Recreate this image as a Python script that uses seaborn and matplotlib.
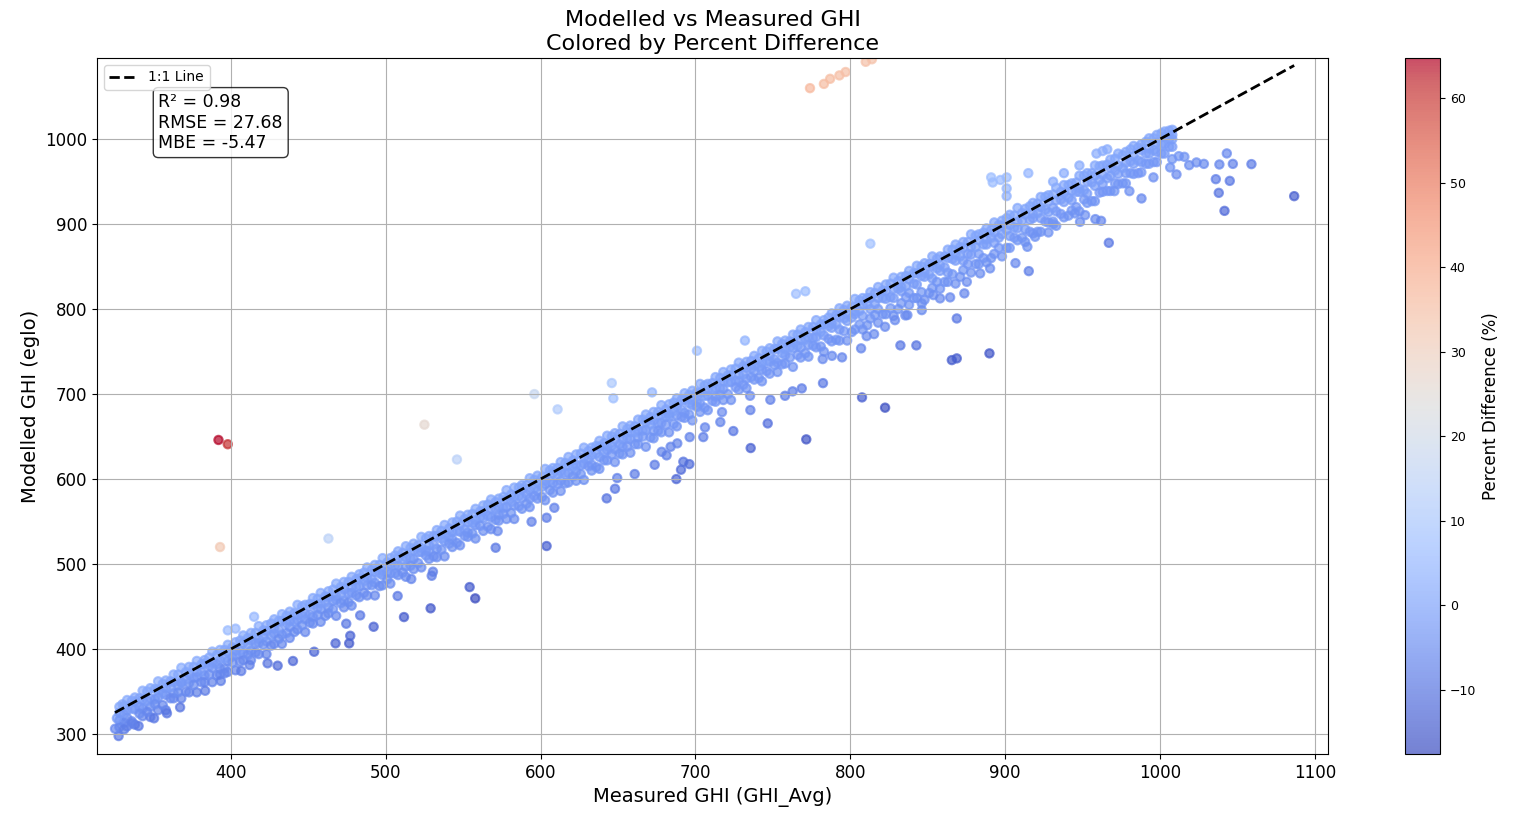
import numpy as np
import pandas as pd
import matplotlib
matplotlib.use("Agg")
import matplotlib.pyplot as plt
import matplotlib.cm as cm
from matplotlib.colors import Normalize
import seaborn as sns

# ---- main dense band (measured value, with modelled values read at several heights) ----
band_measured = [328, 333, 338, 343, 348, 353, 358, 363, 368, 373, 378, 383, 388, 393, 398, 403, 408, 413, 418, 423,
                 428, 433, 438, 443, 448, 453, 458, 463, 468, 473, 478, 483, 488, 493, 498, 503, 508, 513, 518, 523,
                 528, 533, 538, 543, 548, 553, 558, 563, 568, 573, 578, 583, 588, 593, 598, 603, 608, 613, 618, 623,
                 628, 633, 638, 643, 648, 653, 658, 663, 668, 673, 678, 683, 688, 693, 698, 703, 708, 713, 718, 723,
                 728, 733, 738, 743, 748, 753, 758, 763, 768, 773, 778, 783, 788, 793, 798, 803, 808, 813, 818, 823,
                 828, 833, 838, 843, 848, 853, 858, 863, 868, 873, 878, 883, 888, 893, 898, 903, 908, 913, 918, 923,
                 928, 933, 938, 943, 948, 953, 958, 963, 968, 973, 978, 983, 988, 993, 998, 1003, 1008]
band_model_hi = [332, 340, 343, 351, 354, 362, 363, 370, 378, 379, 386, 387, 397, 399, 405, 408, 416, 419, 427, 428,
                 435, 441, 444, 452, 452, 460, 466, 468, 477, 479, 485, 488, 496, 499, 507, 507, 515, 521, 524, 532,
                 533, 540, 546, 549, 557, 558, 565, 569, 576, 577, 587, 590, 593, 601, 604, 612, 613, 620, 626, 629,
                 637, 637, 645, 651, 654, 662, 663, 670, 676, 679, 687, 688, 695, 701, 704, 712, 712, 720, 726, 729,
                 737, 738, 745, 751, 754, 762, 763, 770, 776, 779, 787, 787, 795, 801, 804, 812, 813, 820, 826, 829,
                 837, 838, 845, 851, 854, 862, 862, 870, 876, 879, 888, 888, 895, 902, 904, 911, 919, 918, 925, 932,
                 934, 943, 946, 948, 957, 960, 969, 969, 976, 983, 985, 992, 994, 1001, 1005, 1009, 1011]
band_model_mid1 = [325, 328, 338, 340, 342, 352, 354, 361, 361, 370, 373, 383, 384, 387, 396, 398, 407, 410, 412, 421,
                   424, 433, 433, 440, 442, 452, 454, 461, 462, 470, 473, 483, 484, 491, 492, 500, 507, 508, 516, 519,
                   522, 533, 535, 538, 546, 549, 552, 562, 565, 568, 576, 579, 588, 587, 595, 598, 607, 609, 616, 617,
                   625, 628, 638, 639, 646, 647, 655, 658, 667, 669, 676, 677, 685, 693, 693, 701, 704, 707, 715, 722,
                   723, 731, 734, 737, 745, 753, 753, 761, 764, 767, 775, 782, 783, 791, 794, 797, 805, 813, 813, 821,
                   824, 826, 835, 842, 843, 851, 852, 860, 864, 872, 873, 881, 882, 890, 898, 899, 903, 911, 912, 920,
                   927, 928, 936, 939, 942, 950, 957, 958, 966, 969, 972, 980, 987, 989, 996, 1003, 1005]
band_model_mid2 = [316, 319, 329, 330, 332, 343, 346, 348, 360, 360, 367, 369, 378, 377, 386, 394, 395, 398, 407, 409,
                   418, 417, 426, 434, 435, 438, 447, 449, 458, 457, 466, 474, 475, 478, 487, 489, 498, 497, 506, 514,
                   515, 518, 527, 529, 538, 537, 546, 554, 555, 558, 567, 569, 578, 577, 586, 594, 595, 598, 607, 609,
                   618, 617, 626, 634, 635, 638, 647, 649, 658, 657, 666, 674, 675, 678, 687, 689, 698, 697, 706, 714,
                   715, 718, 727, 729, 738, 737, 746, 754, 755, 758, 767, 769, 778, 776, 786, 794, 792, 800, 800, 812,
                   813, 821, 819, 829, 838, 836, 845, 843, 857, 857, 864, 865, 876, 878, 888, 886, 895, 894, 907, 907,
                   914, 915, 926, 928, 938, 936, 945, 947, 957, 959, 960, 971, 973, 983, 985, 994, 1000]
band_model_lo = [308, 309, 311, 321, 320, 328, 328, 342, 342, 349, 349, 361, 361, 370, 373, 375, 387, 387, 394, 394,
                 406, 406, 413, 423, 420, 430, 432, 442, 439, 449, 451, 461, 463, 463, 475, 477, 487, 485, 494, 496,
                 506, 508, 509, 520, 522, 532, 530, 539, 541, 551, 553, 553, 565, 567, 577, 575, 584, 586, 596, 598,
                 599, 610, 612, 622, 620, 629, 631, 641, 638, 648, 655, 655, 662, 672, 669, 679, 681, 691, 693, 693,
                 705, 707, 717, 715, 724, 726, 736, 732, 743, 744, 755, 750, 762, 763, 763, 776, 776, 789, 784, 794,
                 792, 807, 805, 813, 811, 825, 824, 832, 830, 846, 843, 853, 855, 865, 862, 872, 881, 879, 889, 891,
                 902, 898, 908, 916, 915, 925, 927, 938, 939, 947, 948, 959, 961, 971, 973, 983, 991]

# second set of band readings, taken between the columns above
band2_measured = [331, 336, 341, 346, 351, 356, 361, 366, 371, 376, 381, 386, 391, 396, 401, 406, 411, 416, 421, 426,
                  431, 436, 441, 446, 451, 456, 461, 466, 471, 476, 481, 486, 491, 496, 501, 506, 511, 516, 521, 526,
                  531, 536, 541, 546, 551, 556, 561, 566, 571, 576, 581, 586, 591, 596, 601, 606, 611, 616, 621, 626,
                  631, 636, 641, 646, 651, 656, 661, 666, 671, 676, 681, 686, 691, 696, 701, 706, 711, 716, 721, 726,
                  731, 736, 741, 746, 751, 756, 761, 766, 771, 776, 781, 786, 791, 796, 801, 806, 811, 816, 821, 826,
                  831, 836, 841, 846, 851, 856, 861, 866, 871, 876, 881, 886, 891, 896, 901, 906, 911, 916, 921, 926,
                  931, 936, 941, 946, 951, 956, 961, 966, 971, 976, 981, 986, 991, 996, 1001, 1006]
band2_model_hi = [333, 339, 342, 350, 353, 359, 362, 370, 373, 379, 382, 390, 393, 399, 402, 410, 413, 419, 422, 430,
                  433, 439, 442, 450, 453, 459, 462, 470, 473, 479, 482, 490, 493, 499, 502, 510, 513, 519, 522, 530,
                  533, 539, 542, 550, 553, 559, 562, 570, 573, 579, 582, 590, 593, 599, 602, 610, 613, 619, 622, 630,
                  633, 639, 642, 650, 653, 659, 662, 670, 673, 679, 682, 690, 693, 699, 702, 710, 713, 719, 722, 730,
                  733, 739, 742, 750, 753, 759, 762, 770, 773, 779, 782, 790, 793, 799, 802, 810, 813, 819, 822, 830,
                  833, 839, 842, 850, 853, 859, 862, 870, 873, 879, 886, 890, 893, 899, 907, 910, 913, 921, 924, 932,
                  935, 938, 946, 949, 957, 960, 968, 970, 977, 981, 988, 990, 997, 1001, 1007, 1010]
band2_model_mid = [323, 330, 332, 339, 341, 348, 355, 357, 364, 366, 373, 380, 382, 389, 391, 398, 405, 407, 414, 416,
                   423, 430, 432, 439, 441, 448, 455, 457, 464, 466, 473, 480, 482, 489, 491, 498, 505, 507, 514, 516,
                   523, 530, 532, 539, 541, 548, 555, 557, 564, 566, 573, 580, 582, 589, 591, 598, 605, 607, 614, 616,
                   623, 630, 632, 639, 641, 648, 655, 657, 664, 666, 673, 680, 682, 689, 691, 698, 705, 707, 714, 716,
                   723, 730, 732, 739, 741, 748, 755, 757, 764, 766, 773, 780, 782, 789, 790, 798, 805, 806, 813, 814,
                   824, 827, 830, 839, 841, 848, 849, 859, 862, 865, 873, 876, 884, 884, 893, 896, 904, 905, 913, 917,
                   919, 929, 931, 938, 940, 949, 952, 954, 963, 966, 974, 975, 983, 987, 994, 1000]
band2_model_lo = [313, 315, 324, 326, 335, 334, 342, 349, 350, 358, 361, 370, 369, 377, 384, 385, 393, 396, 405, 404,
                  412, 419, 420, 428, 431, 440, 439, 447, 454, 455, 463, 466, 475, 474, 482, 489, 490, 498, 501, 510,
                  509, 517, 524, 525, 533, 536, 545, 544, 552, 559, 560, 568, 571, 580, 579, 587, 594, 595, 603, 606,
                  615, 614, 622, 629, 630, 638, 641, 650, 649, 657, 664, 665, 673, 676, 685, 684, 692, 699, 700, 708,
                  711, 720, 719, 727, 734, 735, 743, 746, 748, 757, 756, 765, 764, 774, 773, 782, 781, 793, 794, 801,
                  800, 814, 813, 820, 819, 832, 832, 841, 838, 853, 853, 860, 860, 872, 872, 884, 884, 891, 891, 903,
                  903, 912, 910, 920, 929, 927, 937, 939, 948, 948, 960, 960, 971, 973, 983, 991]

# ---- scattered points away from the band ----
outlier_measured = [392, 398, 393, 525, 546, 463, 415, 398, 403, 330, 646, 647, 596, 611, 672, 701, 732, 765, 771,
                    813, 891, 892, 897, 901, 901, 901, 915, 959, 963, 966, 948, 938, 931,
                    774, 783, 787, 793, 797, 810, 814,
                    327.5, 325.2, 331.1, 326.4, 340.4, 336.2, 358.7, 367.2, 350.4, 383.4, 393.5, 395.9, 406.7, 412.1,
                    423.7, 430.2, 440.1, 453.8, 467.6, 476.4, 477.1, 474.5, 483.5, 492.2, 511.8, 529.0, 554.2, 557.8,
                    507.7, 530.5, 529.7, 516.5, 571.0, 572.3, 594.2, 603.9, 603.9, 608.9,
                    642.7, 648.1, 649.5, 660.8, 673.7, 678.2, 681.4, 684.0, 687.7, 690.7, 692.2, 696.1, 688.3, 696.3,
                    705.1, 706.2, 716.1, 717.2, 724.5, 735.5, 735.3, 735.7, 746.7, 748.4, 757.9, 762.8, 768.7, 771.6,
                    782.4, 782.2, 788.2, 794.7, 807.0, 807.6, 810.6, 815.4, 822.5, 822.5, 828.9, 832.4, 835.6, 842.7,
                    846.2, 846.2, 836.9,
                    853.7, 858.0, 864.5, 873.7, 865.6, 868.8, 868.8, 875.3, 883.9, 889.9, 890.3, 906.7, 915.3, 914.4,
                    919.4, 928.0, 931.2, 945.2, 948.4, 951.7, 958.3, 962.0, 967.0, 970.6, 980.3, 988.1, 995.8, 1006.6,
                    1010.7, 1007.9, 1012.2, 1015.8, 1018.9, 1023.6, 1028.4, 1036.1, 1038.0, 1038.4, 1041.7, 1043.2,
                    1045.1, 1047.1, 1059.1, 1086.7]
outlier_model = [646, 641, 520, 664, 623, 530, 438, 422, 424, 335, 713, 695, 700, 682, 702, 751, 763, 818, 821,
                 877, 955, 949, 952, 955, 942, 933, 960, 983, 986, 988, 969, 960, 950,
                 1060, 1065, 1071, 1075, 1079, 1091, 1094,
                 297.6, 306.2, 305.5, 318.5, 309.4, 312.6, 324.4, 331.4, 318.5, 350.9, 362.4, 371.4, 374.1, 381.2,
                 383.2, 380.4, 385.9, 396.8, 406.7, 406.7, 415.6, 429.8, 439.6, 426.2, 437.6, 447.9, 472.9, 459.6,
                 462.4, 491.0, 486.2, 482.4, 519.2, 538.8, 549.8, 521.2, 554.5, 566.2,
                 577.3, 588.6, 601.2, 605.9, 616.8, 632.1, 627.9, 638.0, 600.0, 611.0, 620.4, 617.6, 642.0, 649.4,
                 649.4, 660.8, 667.1, 678.8, 656.5, 681.2, 698.0, 636.5, 665.5, 693.3, 698.0, 703.2, 706.7, 646.7,
                 712.9, 741.2, 745.0, 743.2, 753.8, 696.1, 768.2, 770.6, 684.0, 779.2, 787.0, 757.3, 792.6, 757.3,
                 798.8, 806.7, 793.0,
                 816.5, 812.6, 813.8, 818.5, 740.0, 742.0, 789.0, 832.1, 842.0, 747.9, 847.9, 854.1, 844.7, 873.3,
                 885.1, 890.2, 900.0, 912.6, 902.7, 910.6, 905.9, 903.9, 878.0, 938.8, 938.8, 930.2, 955.0, 966.7,
                 958.5, 976.5, 980.0, 979.2, 969.4, 972.6, 970.9, 952.9, 936.8, 970.2, 915.6, 983.2,
                 950.9, 970.9, 970.6, 932.9]

stats_lines = ["R\u00b2 = 0.98", "RMSE = 27.68", "MBE = -5.47"]
title_text = "Modelled vs Measured GHI\nColored by Percent Difference"
x_label = "Measured GHI (GHI_Avg)"
y_label = "Modelled GHI (eglo)"
cbar_label = "Percent Difference (%)"

measured = np.concatenate([band_measured] * 4 + [band2_measured] * 3 + [outlier_measured]).astype(float)
modelled = np.concatenate([band_model_hi, band_model_mid1, band_model_mid2, band_model_lo,
                           band2_model_hi, band2_model_mid, band2_model_lo,
                           outlier_model]).astype(float)
pct = (modelled - measured) / measured * 100.0
df = pd.DataFrame({"measured": measured, "modelled": modelled, "pct": pct})

fig = plt.figure(figsize=(15.29, 8.26), dpi=100)
ax = fig.add_axes([0.0634, 0.0872, 0.8051, 0.8426])
cax = fig.add_axes([0.9189, 0.0872, 0.0229, 0.8426])

norm = Normalize(vmin=pct.min(), vmax=pct.max())
sns.scatterplot(data=df, x="measured", y="modelled", hue="pct", palette="coolwarm",
                hue_norm=norm, alpha=0.7, s=36, edgecolor="face", linewidth=1.5,
                legend=False, ax=ax)

lo, hi = measured.min(), measured.max()
ax.plot([lo, hi], [lo, hi], "k--", lw=2, label="1:1 Line")

ax.set_xlim(313.5, 1108.5)
ax.set_ylim(276.5, 1095.5)
ax.grid(True)
ax.set_title(title_text, fontsize=16)
ax.set_xlabel(x_label, fontsize=14)
ax.set_ylabel(y_label, fontsize=14)
ax.tick_params(labelsize=12)
ax.legend(loc="upper left", fontsize=10)
ax.text(0.05, 0.95, "\n".join(stats_lines), transform=ax.transAxes, fontsize=12.5,
        va="top", bbox=dict(boxstyle="round", facecolor="white", alpha=0.8))

sm = cm.ScalarMappable(norm=norm, cmap="coolwarm")
sm.set_array([])
cb = fig.colorbar(sm, cax=cax, alpha=0.7)
cb.set_label(cbar_label, fontsize=12)
cb.ax.tick_params(labelsize=9)

fig.savefig("out.png", dpi=100)
